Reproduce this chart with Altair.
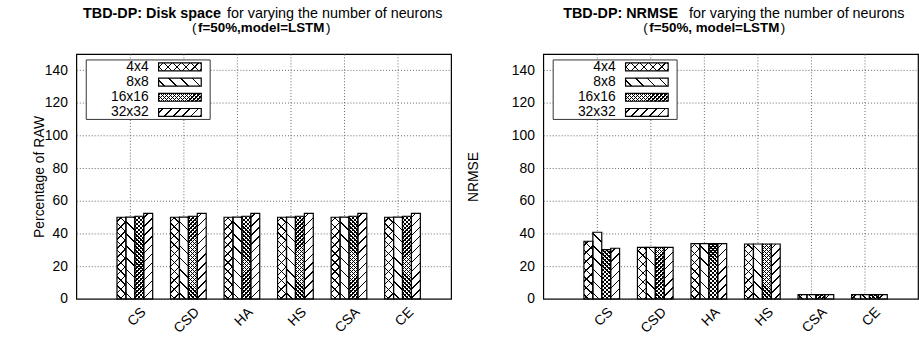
import math
import altair as alt
import pandas as pd

# ---------------- data ----------------
categories = ["CS", "CSD", "HA", "HS", "CSA", "CE"]
series = ["4x4", "8x8", "16x16", "32x32"]

disk_4x4 = [50.0, 50.0, 50.0, 50.0, 50.0, 50.0]
disk_8x8 = [50.1, 50.1, 50.1, 50.1, 50.1, 50.1]
disk_16x16 = [50.6, 50.6, 50.6, 50.6, 50.6, 50.6]
disk_32x32 = [52.4, 52.4, 52.4, 52.4, 52.4, 52.4]

nrmse_4x4 = [35.3, 31.6, 33.8, 33.6, 2.6, 2.6]
nrmse_8x8 = [40.8, 31.6, 33.8, 33.6, 2.6, 2.6]
nrmse_16x16 = [30.2, 31.5, 33.8, 33.6, 2.6, 2.6]
nrmse_32x32 = [31.0, 31.6, 33.8, 33.6, 2.6, 2.6]

y_ticks = [0, 20, 40, 60, 80, 100, 120, 140]

left_title_bold = "TBD-DP: Disk space"
left_title_rest = "for varying the number of neurons"
left_sub = "f=50%,model=LSTM"
left_ytitle = "Percentage of RAW"

right_title_bold = "TBD-DP: NRMSE"
right_title_rest = "for varying the number of neurons"
right_sub = "f=50%, model=LSTM"
right_ytitle = "NRMSE"

# ---------------- layout constants ----------------
FONT = "Liberation Sans"
PW, PH = 378, 247
YMAX = 150
K = PH / YMAX
BAR_W = 9
GRID = "#666666"
T1_SIZE, T2_SIZE = 14.5, 13.5
T1_Y, T2_Y = -36.5, -22

# hatch definitions: direction ('b' = "\", 'f' = "/"), vertical spacing px, line width px
HATCH = {
    "4x4": [("b", 9.0, 1.0), ("f", 9.0, 1.0)],
    "8x8": [("b", 12.0, 1.0)],
    "16x16": [("b", 4.0, 0.9), ("f", 4.0, 0.9)],
    "32x32": [("f", 9.0, 1.0)],
}


def stops_str(P, L, lw):
    out = []
    i = 0
    while True:
        c = i * P + P / 2.0
        a = (c - lw / 2.0) / L
        b = (c + lw / 2.0) / L
        if a >= 1:
            break
        b = min(b, 1.0)
        out += [(a, "rgba(0,0,0,0)"), (a, "#000"), (b, "#000"), (b, "rgba(0,0,0,0)")]
        i += 1
    return "[" + ",".join("{offset:%.5f,color:'%s'}" % s for s in out) + "]"


def grad(direction, V, lw, w, h_expr, L):
    P = V / math.sqrt(2)
    C = math.sqrt(2) * L
    den = "(%d+pow(%s,2))" % (w * w, h_expr)
    a = "%.4f*%d/%s" % (C, w, den)
    b = "%.4f*(%s)/%s" % (C, h_expr, den)
    st = stops_str(P, L, lw)
    if direction == "f":
        return "{gradient:'linear',x1:0,y1:0,x2:%s,y2:%s,stops:%s}" % (a, b, st)
    return "{gradient:'linear',x1:0,y1:1,x2:%s,y2:1-%s,stops:%s}" % (a, b, st)


def fill_expr(direction, w, h_expr, L):
    expr = "'rgba(0,0,0,0)'"
    for s in reversed(series):
        for d, V, lw in HATCH[s]:
            if d == direction:
                expr = "datum.series=='%s'?%s:(%s)" % (s, grad(d, V, lw, w, h_expr, L), expr)
    return expr


def make_df(vals):
    rows = []
    for s, arr in zip(series, vals):
        for c, v in zip(categories, arr):
            rows.append({"cat": c, "series": s, "value": v})
    return pd.DataFrame(rows)


def text_layer(t, x, y, size, weight, align):
    return alt.Chart(pd.DataFrame({"t": [t]})).mark_text(
        align=align, baseline="alphabetic", fontSize=size, fontWeight=weight,
        font=FONT, color="black"
    ).encode(x=alt.value(x), y=alt.value(y), text="t:N")


def panel(df, ytitle, ytitle_x, tb, tr, tb_end, tr_start, sub, sub_c):
    L_bar = (BAR_W + 100) / math.sqrt(2)
    h_bar = "(datum.value*%.5f)" % K
    enc = dict(
        x=alt.X("cat:N", sort=categories,
                scale=alt.Scale(paddingInner=1 / 3, paddingOuter=2 / 3),
                axis=alt.Axis(title=None, labelAngle=315, labelAlign="right",
                              labelBaseline="top", labelOffset=9, labelPadding=6,
                              labelFontSize=14, grid=True, gridDash=[1, 2],
                              gridColor=GRID, ticks=False, domain=False,
                              bandPosition=0.5)),
        xOffset=alt.XOffset("series:N", sort=series,
                            scale=alt.Scale(range=[5, 5 + 4 * BAR_W], paddingInner=0, paddingOuter=0)),
        y=alt.Y("value:Q", scale=alt.Scale(domain=[0, YMAX], nice=False),
                axis=alt.Axis(values=y_ticks, title=ytitle, grid=True, gridDash=[1, 2],
                              gridColor=GRID, ticks=False, domain=False,
                              labelPadding=9, labelFontSize=14, titleFontSize=14,
                              titleFontWeight="normal", titleX=ytitle_x, titleY=PH / 2,
                              titleAngle=270, titleAlign="center", titleBaseline="middle")),
    )
    base = alt.Chart(df)
    b0 = base.mark_bar(fill="white", strokeWidth=0).encode(**enc)
    b1 = base.mark_bar(strokeWidth=0).encode(
        fill=alt.value({"expr": fill_expr("b", BAR_W, h_bar, L_bar)}), **enc)
    b2 = base.mark_bar(strokeWidth=0).encode(
        fill=alt.value({"expr": fill_expr("f", BAR_W, h_bar, L_bar)}), **enc)
    b3 = base.mark_bar(fillOpacity=0, stroke="black", strokeWidth=1.2).encode(**enc)
    bars = alt.layer(b0, b1, b2, b3)

    # legend
    leg_df = pd.DataFrame({"series": series})
    step = 15.33
    ly = alt.Y("series:N", sort=series, axis=None,
               scale=alt.Scale(range=[13 - step / 2, 13 - step / 2 + 4 * step],
                               paddingInner=1 - 8 / step, paddingOuter=(1 - 8 / step) / 2))
    box = alt.Chart(pd.DataFrame({"k": [0]})).mark_rect(
        fill="white", stroke="#333333", strokeWidth=1
    ).encode(x=alt.value(10), x2=alt.value(135), y=alt.value(6), y2=alt.value(66))
    L_sw = (43 + 8) / math.sqrt(2)
    lc = alt.Chart(leg_df)
    sx = dict(x=alt.value(83), x2=alt.value(126), y=ly)
    s0 = lc.mark_bar(fill="white", strokeWidth=0).encode(**sx)
    s1 = lc.mark_bar(strokeWidth=0).encode(fill=alt.value({"expr": fill_expr("b", 43, "8", L_sw)}), **sx)
    s2 = lc.mark_bar(strokeWidth=0).encode(fill=alt.value({"expr": fill_expr("f", 43, "8", L_sw)}), **sx)
    s3 = lc.mark_bar(fillOpacity=0, stroke="black", strokeWidth=1.2).encode(**sx)
    labels = lc.mark_text(align="right", baseline="middle", fontSize=14, font=FONT,
                          color="black").encode(x=alt.value(73), y=ly, text="series:N")
    legend = alt.layer(box, s0, s1, s2, s3, labels)

    # bold subtitle width in Liberation Sans Bold (Arial metrics)
    bold_w = {"f": .333, "=": .584, "5": .556, "0": .556, "%": .889, ",": .278,
              "m": .889, "o": .611, "d": .611, "e": .556, "l": .278, "L": .611,
              "S": .667, "T": .611, "M": .833, " ": .278}
    half = sum(bold_w.get(ch, .6) for ch in sub) * T2_SIZE / 2
    titles = alt.layer(
        text_layer(tb, tb_end, T1_Y, T1_SIZE, "bold", "right"),
        text_layer(tr, tr_start, T1_Y, T1_SIZE, "normal", "left"),
        text_layer(sub, sub_c, T2_Y, T2_SIZE, "bold", "center"),
        text_layer("(", sub_c - half - 1.5, T2_Y, T2_SIZE, "normal", "right"),
        text_layer(")", sub_c + half + 1.5, T2_Y, T2_SIZE, "normal", "left"),
    )
    return alt.layer(bars, legend, titles).resolve_scale(y="independent").properties(
        width=PW, height=PH)


df_left = make_df([disk_4x4, disk_8x8, disk_16x16, disk_32x32])
df_right = make_df([nrmse_4x4, nrmse_8x8, nrmse_16x16, nrmse_32x32])

left = panel(df_left, left_ytitle, -37, left_title_bold, left_title_rest, 146, 152, left_sub, 186.5)
right = panel(df_right, right_ytitle, -70, right_title_bold, right_title_rest, 136, 147, right_sub, 172.5)

chart = alt.hconcat(left, right, spacing=93, bounds="flush").properties(
    padding={"left": 32, "top": 3, "right": 0, "bottom": 0},
    background="white",
).configure_view(stroke="black", strokeWidth=1.2).configure_axis(
    labelFont=FONT, titleFont=FONT, labelColor="black", titleColor="black"
)

chart.save("out.html", embed_options={"renderer": "svg", "actions": False})
